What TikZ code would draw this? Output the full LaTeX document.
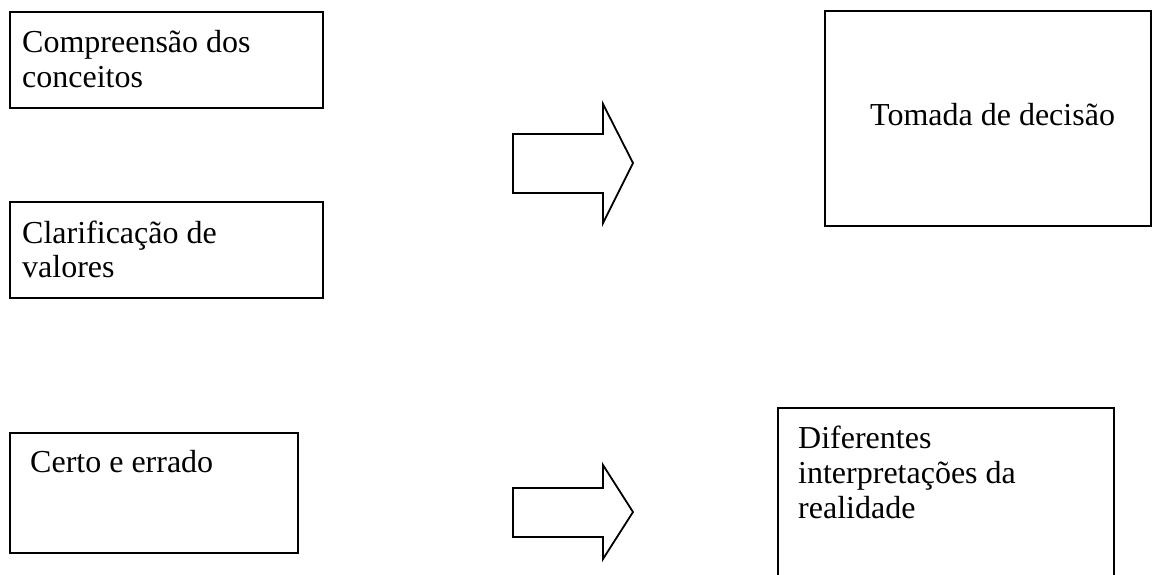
\documentclass[tikz,border=0pt]{standalone}
\usepackage{fontspec}
\setmainfont{Liberation Serif}
\begin{document}
\begin{tikzpicture}[x=1pt,y=-1pt,
  boxstyle/.style={draw=black,line width=1.8pt},
  txt/.style={inner sep=0pt,anchor=base west,font=\fontsize{32}{35}\selectfont,align=left},
  blockarrow/.style={draw=black,line width=1.8pt,line join=miter}]
\useasboundingbox (0,0) rectangle (1152,574);
% boxes
\node[boxstyle,inner sep=0pt,minimum width=313pt,minimum height=96pt,anchor=north west] (b1) at (9,11) {};
\node[boxstyle,inner sep=0pt,minimum width=313pt,minimum height=96pt,anchor=north west] (b2) at (9,201) {};
\node[boxstyle,inner sep=0pt,minimum width=288pt,minimum height=120pt,anchor=north west] (b3) at (9,432) {};
\node[boxstyle,inner sep=0pt,minimum width=326pt,minimum height=215pt,anchor=north west] (b4) at (824,10) {};
\node[boxstyle,inner sep=0pt,minimum width=336pt,minimum height=180pt,anchor=north west] (b5) at (777,407) {};
% texts
\node[txt] (t1a) at (22,52) {Compreensão dos};
\node[txt] (t1b) at (22,87) {conceitos};
\node[txt] (t2a) at (22,243) {Clarificação de};
\node[txt] (t2b) at (22,277) {valores};
\node[txt] (t3) at (30,472) {Certo e errado};
\node[txt] (t4) at (870,125) {Tomada de decisão};
\node[txt] (t5a) at (798,448) {Diferentes};
\node[txt] (t5b) at (798,483) {interpretações da};
\node[txt] (t5c) at (798,518) {realidade};
% block arrows
\draw[blockarrow] (513,134) -- (603,134) -- (603,104) -- (633,163) -- (603,223) -- (603,193) -- (513,193) -- cycle;
\draw[blockarrow] (513,488) -- (603,488) -- (603,465) -- (633,512) -- (603,559) -- (603,537) -- (513,537) -- cycle;
\end{tikzpicture}
\end{document}
